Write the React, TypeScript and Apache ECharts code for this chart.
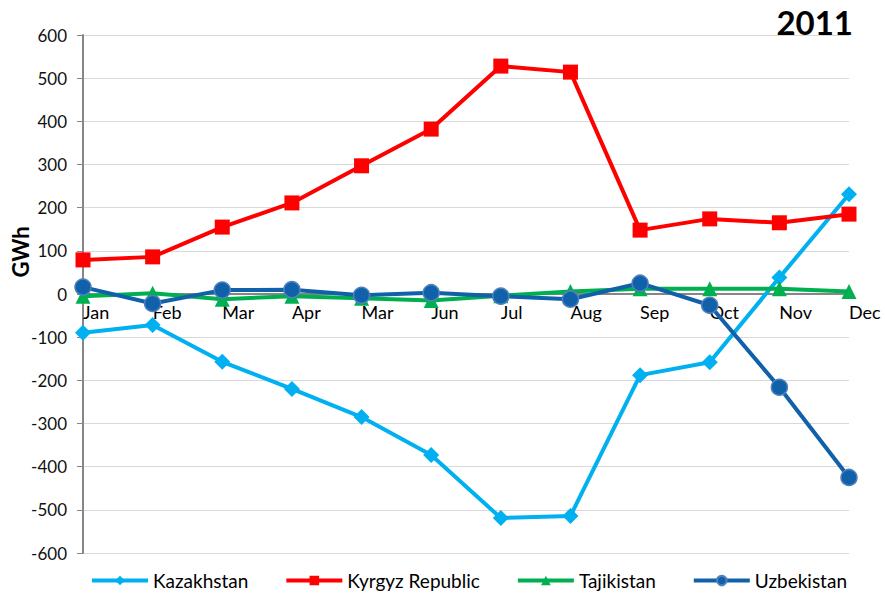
import React, { useEffect, useRef } from "react";
import * as echarts from "echarts";

const categories = ["Jan", "Feb", "Mar", "Apr", "Mar", "Jun", "Jul", "Aug", "Sep", "Oct", "Nov", "Dec"];
const kazakhstan = [-90, -72, -157, -220, -285, -373, -519, -514, -188, -158, 38, 231];
const kyrgyz = [79, 86, 155, 211, 297, 382, 528, 514, 148, 174, 165, 185];
const tajikistan = [-5, 2, -12, -5, -10, -15, -4, 6, 12, 12, 12, 6];
const uzbekistan = [16, -22, 9, 10, -3, 3, -5, -12, 25, -26, -216, -425];
const yTicks = { min: -600, max: 600, interval: 100 };

const FONT = "Lato, 'Open Sans', sans-serif";

export default function App() {
  const ref = useRef<HTMLDivElement>(null);
  useEffect(() => {
    if (!ref.current) return;
    const chart = echarts.init(ref.current, null, { renderer: "svg" });
    const mk = (name: string, data: number[], color: string, symbol: string, size: number, extra: any = {}) => ({
      name,
      type: "line",
      data,
      symbol,
      symbolSize: size,
      lineStyle: { color, width: 4 },
      itemStyle: { color, ...extra },
      emphasis: { disabled: true },
    });
    chart.setOption({
      animation: false,
      textStyle: { fontFamily: FONT },
      grid: { left: 83, right: 36, top: 35, bottom: 42 },
      title: {
        text: "2011",
        right: 27,
        top: 0,
        textStyle: { fontSize: 33, fontWeight: "bold", color: "#000", fontFamily: FONT },
      },
      graphic: [
        {
          type: "text",
          x: 20,
          y: 252,
          rotation: Math.PI / 2,
          style: {
            text: "GWh",
            font: `bold 22px ${FONT}`,
            fill: "#000",
            textAlign: "center",
            textVerticalAlign: "middle",
          },
        },
      ],
      legend: {
        left: 85,
        top: 566,
        itemWidth: 56,
        itemHeight: 12,
        itemGap: 36,
        lineStyle: { width: 4 },
        textStyle: { fontSize: 19, color: "#000", fontFamily: FONT },
        data: ["Kazakhstan", "Kyrgyz Republic", "Tajikistan", "Uzbekistan"],
      },
      xAxis: {
        type: "category",
        data: categories,
        boundaryGap: false,
        offset: -259,
        axisLine: { onZero: false, lineStyle: { color: "#868686", width: 2 } },
        axisTick: { show: true, inside: true, length: 5, lineStyle: { color: "#868686" } },
        axisLabel: { interval: 0, align: "left", fontSize: 18, color: "#000", margin: 9, fontFamily: FONT },
        splitLine: { show: false },
      },
      yAxis: {
        type: "value",
        min: yTicks.min,
        max: yTicks.max,
        interval: yTicks.interval,
        axisLine: { show: true, lineStyle: { color: "#868686", width: 2 } },
        axisTick: { show: true, length: 6, lineStyle: { color: "#868686" } },
        axisLabel: { fontSize: 17, color: "#111", margin: 16, fontFamily: FONT },
        splitLine: { lineStyle: { color: "#d9d9d9", width: 1 } },
      },
      series: [
        mk("Kazakhstan", kazakhstan, "#00B0F0", "diamond", 16),
        mk("Kyrgyz Republic", kyrgyz, "#FF0000", "rect", 15),
        mk("Tajikistan", tajikistan, "#00B050", "triangle", 15),
        mk("Uzbekistan", uzbekistan, "#1061A9", "circle", 16, { borderColor: "#4F81BD", borderWidth: 1.5 }),
      ],
    });
    return () => chart.dispose();
  }, []);
  return <div ref={ref} style={{ width: 885, height: 595, position: "absolute", left: 0, top: 0 }} />;
}
